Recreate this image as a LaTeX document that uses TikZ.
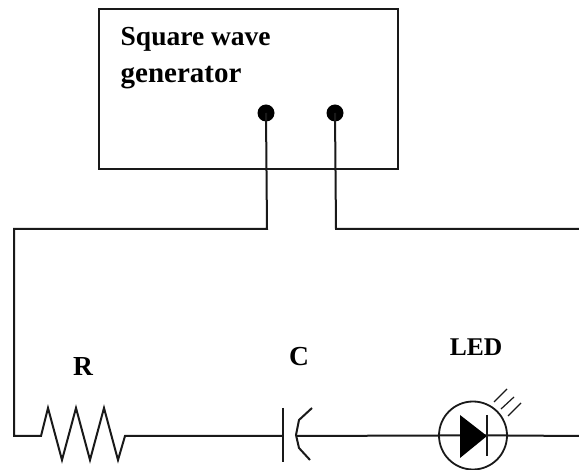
\documentclass[tikz,border=0pt]{standalone}
\usepackage{fontspec}
\setmainfont{Liberation Serif}
\tikzset{
  wire/.style={draw=black!90,line width=2pt,line join=miter},
  label/.style={font=\bfseries\fontsize{27.5}{37}\selectfont,text=black,inner sep=0pt},
  ledlabel/.style={font=\bfseries\fontsize{25.5}{30}\selectfont,text=black,inner sep=0pt},
  terminal/.style={circle,fill=black,minimum size=17pt,inner sep=0pt},
}
\begin{document}
\begin{tikzpicture}[x=1pt,y=-1pt]
\useasboundingbox (0,0) rectangle (579,470);
\fill[white] (0,0) rectangle (579,470);
\node[draw=black!90,line width=2pt,minimum width=299pt,minimum height=160pt,inner sep=0pt] (gen) at (248.5,89) {};
\node[label,align=left,anchor=north west] (title) at (120.5,27) {Square wave\\{\fontsize{29}{37}\selectfont generator}};
\node[terminal] (t1) at (266,113) {};
\node[terminal] (t2) at (335,113) {};
\coordinate (left) at (14,436);
\coordinate (right) at (579,436);
\coordinate (r1) at (41,436);
\coordinate (r2) at (125,436);
\coordinate (c1) at (283,436);
\node[draw=black!90,circle,line width=1.8pt,minimum size=68pt,inner sep=0pt] (led) at (473,435.5) {};
\draw[wire] (t1.center) -- (267,229) -- (14,229) -- (left) -- (r1) -- (48,408) -- (62,460) -- (76,408) -- (90,460) -- (104,408) -- (118,460) -- (r2) -- (c1);
\draw[wire] (t2.center) -- (336,229) -- (579,229);
\draw[wire] (283,408) -- (283,462);
\draw[wire] (312,408) -- (299,420) -- (296,435) -- (299,448) -- (310,460);
\draw[wire] (297,436) -- (led.west) -- (led.east) -- (right);
\fill[black] (460,415) -- (460,458) -- (487,436) -- cycle;
\draw[wire] (487,415) -- (487,456);
\draw[draw=black!90,line width=1.2pt] (494,402) -- (507,389) (501,409) -- (514,397) (508,416) -- (521,403);
\node[label] (R) at (83,366) {R};
\node[label] (C) at (299,357) {C};
\node[ledlabel] (L) at (476,347) {LED};
\end{tikzpicture}
\end{document}
